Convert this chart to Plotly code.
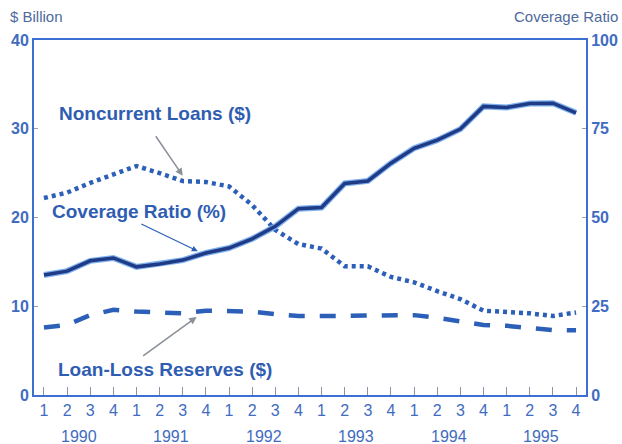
import plotly.graph_objects as go

years = ["1990", "1991", "1992", "1993", "1994", "1995"]
quarter_labels = ["1", "2", "3", "4"] * 6
quarter_index = list(range(24))

noncurrent_loans = [22.2, 22.8, 23.9, 24.8, 25.8, 25.0, 24.1, 24.0,
                    23.5, 21.4, 18.6, 17.0, 16.5, 14.5, 14.5, 13.3,
                    12.7, 11.7, 10.8, 9.5, 9.4, 9.2, 8.9, 9.3]
loan_loss_reserves = [7.6, 7.9, 9.0, 9.6, 9.4, 9.3, 9.2, 9.5,
                      9.5, 9.4, 9.1, 8.9, 8.9, 8.9, 8.9, 8.9,
                      9.0, 8.7, 8.3, 7.9, 7.8, 7.5, 7.3, 7.3]
coverage_ratio = [33.8, 34.9, 37.8, 38.6, 36.1, 36.9, 38.0, 40.0,
                  41.4, 44.0, 47.5, 52.5, 52.8, 59.6, 60.3, 65.3,
                  69.5, 71.8, 74.9, 81.3, 81.0, 82.1, 82.2, 79.5]

left_ticks = [0, 10, 20, 30, 40]
right_ticks = [0, 25, 50, 75, 100]

LINE_BLUE = "#2c5fb8"
NAVY = "#1f3b86"
AXIS_BLUE = "#3d6fd2"
TEXT_BLUE = "#2f5db2"
TICK_BLUE = "#3f6cc0"
FONT = "Liberation Sans, Arial, sans-serif"

fig = go.Figure()
fig.add_trace(go.Scatter(x=quarter_index, y=noncurrent_loans, mode="lines",
                         line=dict(color=LINE_BLUE, width=4.5, dash="4px,4px"),
                         name="Noncurrent Loans ($)", yaxis="y"))
fig.add_trace(go.Scatter(x=quarter_index, y=loan_loss_reserves, mode="lines",
                         line=dict(color=LINE_BLUE, width=4.5, dash="16px,15px"),
                         name="Loan-Loss Reserves ($)", yaxis="y"))
fig.add_trace(go.Scatter(x=quarter_index, y=coverage_ratio, mode="lines",
                         line=dict(color="#7fb0ee", width=6),
                         name="glow", yaxis="y2", hoverinfo="skip"))
fig.add_trace(go.Scatter(x=quarter_index, y=coverage_ratio, mode="lines",
                         line=dict(color=NAVY, width=3.5),
                         name="Coverage Ratio (%)", yaxis="y2"))

annotations = []
for k, yr in enumerate(years):
    annotations.append(dict(x=4 * k + 1.5, y=-0.118, xref="x", yref="paper",
                            xanchor="center", yanchor="middle",
                            text=yr, showarrow=False,
                            font=dict(family=FONT, size=16, color=TICK_BLUE)))

label_font = dict(family=FONT, size=19, color=TEXT_BLUE)
annotations += [
    dict(x=0.219, y=0.794, xref="paper", yref="paper", xanchor="center", yanchor="middle",
         text="<b>Noncurrent Loans ($)</b>", showarrow=False, font=label_font),
    dict(x=0.191, y=0.518, xref="paper", yref="paper", xanchor="center", yanchor="middle",
         text="<b>Coverage Ratio (%)</b>", showarrow=False, font=label_font),
    dict(x=0.237, y=0.073, xref="paper", yref="paper", xanchor="center", yanchor="middle",
         text="<b>Loan-Loss Reserves ($)</b>", showarrow=False, font=label_font),
    dict(x=6, y=noncurrent_loans[6] + 0.6, xref="x", yref="y", ax=-28, ay=-41,
         showarrow=True, arrowhead=2, arrowsize=1, arrowwidth=1.5, arrowcolor="#8a8f98", text=""),
    dict(x=6.65, y=40.5, xref="x", yref="y2", ax=-58, ay=-28,
         showarrow=True, arrowhead=2, arrowsize=1, arrowwidth=1.2, arrowcolor=LINE_BLUE, text=""),
    dict(x=6.6, y=loan_loss_reserves[6] - 0.4, xref="x", yref="y", ax=-55, ay=40,
         showarrow=True, arrowhead=2, arrowsize=1, arrowwidth=1.5, arrowcolor="#8a8f98", text=""),
    dict(x=-0.047, y=1.065, xref="paper", yref="paper", xanchor="left", yanchor="middle",
         text="$ Billion", showarrow=False, font=dict(family=FONT, size=15, color="#4d6a9c")),
    dict(x=1.0616, y=1.065, xref="paper", yref="paper", xanchor="right", yanchor="middle",
         text="Coverage Ratio", showarrow=False, font=dict(family=FONT, size=15, color="#4d6a9c")),
]

fig.update_layout(
    width=622, height=444,
    margin=dict(l=34, r=36, t=40, b=49, autoexpand=False),
    paper_bgcolor="white", plot_bgcolor="white",
    showlegend=False,
    font=dict(family=FONT, color=TICK_BLUE),
    xaxis=dict(range=[-0.43, 23.43], tickvals=quarter_index, ticktext=quarter_labels,
               showgrid=False, zeroline=False, showline=True, linecolor=AXIS_BLUE, linewidth=2,
               mirror=True, ticks="inside", ticklen=8, tickcolor="#8a94a6", tickwidth=1,
               tickfont=dict(family=FONT, size=16, color=TICK_BLUE)),
    yaxis=dict(range=[0, 40], tickvals=left_ticks, showgrid=False, zeroline=False,
               showline=True, linecolor=AXIS_BLUE, linewidth=2,
               ticks="inside", ticklen=4, tickcolor="#9aa0aa",
               tickfont=dict(family=FONT, size=16, color=TICK_BLUE, weight="bold")),
    yaxis2=dict(range=[0, 100], tickvals=right_ticks, overlaying="y", side="right",
                showgrid=False, zeroline=False, showline=True, linecolor=AXIS_BLUE, linewidth=2,
                ticks="inside", ticklen=4, tickcolor="#9aa0aa",
                tickfont=dict(family=FONT, size=16, color=TICK_BLUE, weight="bold")),
    annotations=annotations,
)

fig.write_html("out.html", config={"displayModeBar": False},
               post_script="document.body.style.margin='0';")
